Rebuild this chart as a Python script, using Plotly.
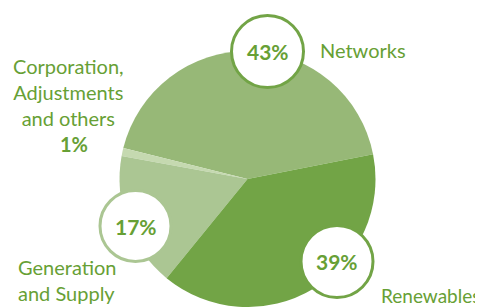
import plotly.graph_objects as go

# Data
segments = ["Networks", "Corporation, Adjustments and others", "Generation and Supply", "Renewables"]
shares = [43, 1, 17, 39]
colors = ["#97B877", "#C5D9B0", "#ABC693", "#72A446"]

# page body has an 8px margin, so the figure is 8px smaller and all positions shifted
OFF = 8
W, H = 483 - OFF, 307 - OFF
TEXT_GREEN = "#67A035"
FONT = "Lato"

def px(x):
    return (x - OFF) / W

def py(y):
    return 1 - (y - OFF) / H

# pie geometry (center ~ (247.5,179), radius 128) in window pixels
cx, cy, r = 247.5, 179, 128

fig = go.Figure(go.Pie(
    labels=segments,
    values=shares,
    sort=False,
    direction="counterclockwise",
    rotation=-76,
    marker=dict(colors=colors, line=dict(width=0)),
    textinfo="none",
    hoverinfo="skip",
    showlegend=False,
    domain=dict(x=[px(cx - r), px(cx + r)], y=[max(0, py(cy + r)), py(cy - r)]),
))

# label bubbles
bubbles = [
    ("43%", 267.5, 51.5, 36, "#72A446"),
    ("39%", 337.0, 261.5, 36, "#72A446"),
    ("17%", 135.5, 226.0, 35.5, "#ABC693"),
]
shapes = []
annotations = []
for txt, bx, by, br, col in bubbles:
    shapes.append(dict(type="circle", xref="paper", yref="paper",
                       x0=px(bx - br), x1=px(bx + br), y0=py(by + br), y1=py(by - br),
                       fillcolor="white", line=dict(color=col, width=3), layer="above"))
    annotations.append(dict(text=f"<b>{txt}</b>", x=px(bx), y=py(by), xref="paper", yref="paper",
                            showarrow=False, xanchor="center", yanchor="middle",
                            font=dict(family=FONT, size=21, color=TEXT_GREEN)))

labels = [
    dict(text="Networks", x=px(318), y=py(50), xanchor="left", yanchor="middle", size=20),
    dict(text="Renewables", x=px(379), y=py(295), xanchor="left", yanchor="middle", size=19),
    dict(text="Corporation,<br>Adjustments<br>and others", x=px(69), y=py(92),
         xanchor="center", yanchor="middle", align="center", size=20),
    dict(text="<b>1%</b>", x=px(74), y=py(144), xanchor="center", yanchor="middle", size=20),
    dict(text="Generation<br>and Supply", x=px(16), y=py(280), xanchor="left", yanchor="middle",
         align="left", size=20),
]
for a in labels:
    size = a.pop("size")
    a.update(xref="paper", yref="paper", showarrow=False,
             font=dict(family=FONT, size=size, color=TEXT_GREEN))
annotations += labels

fig.update_layout(
    width=W, height=H,
    margin=dict(l=0, r=0, t=0, b=0),
    paper_bgcolor="white", plot_bgcolor="white",
    shapes=shapes, annotations=annotations,
)

fig.write_html("out.html")
